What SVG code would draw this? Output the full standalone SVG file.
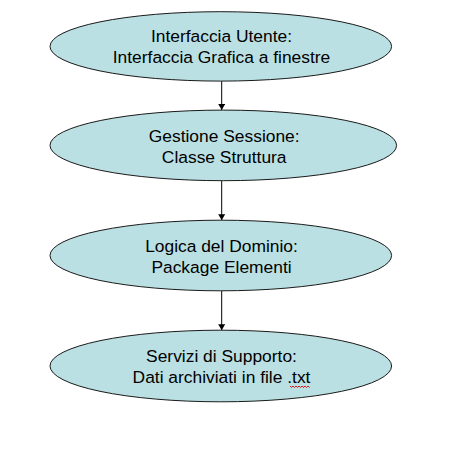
<svg xmlns="http://www.w3.org/2000/svg" width="452" height="453" viewBox="0 0 452 453">
  <style>
    .node ellipse { fill: #BBE0E3; stroke: #1a1a1a; stroke-width: 1; }
    .node text { font-family: "Liberation Sans", Arial, sans-serif; font-size: 17.4px; fill: #000; text-anchor: middle; }
    .conn line { stroke: #000; stroke-width: 1; }
  </style>
  <defs>
    <marker id="arr" markerUnits="userSpaceOnUse" markerWidth="6" markerHeight="7" refX="6" refY="3.5" orient="auto">
      <path d="M0,0 L6,3.5 L0,7 z" fill="#000"/>
    </marker>
  </defs>
  <rect width="452" height="453" fill="#fff"/>
  <g id="connectors" class="conn">
    <line x1="221.7" y1="81.2" x2="221.7" y2="110" marker-end="url(#arr)"/>
    <line x1="221.7" y1="180.8" x2="221.7" y2="220.2" marker-end="url(#arr)"/>
    <line x1="221.7" y1="290.9" x2="221.7" y2="330.2" marker-end="url(#arr)"/>
  </g>
  <g id="node-interfaccia" class="node">
    <ellipse cx="220.8" cy="46.4" rx="170.8" ry="34.7"/>
    <text x="221.5" y="41.9">Interfaccia Utente:</text>
    <text x="221.5" y="63.4">Interfaccia Grafica a finestre</text>
  </g>
  <g id="node-sessione" class="node">
    <ellipse cx="223.3" cy="145.4" rx="173.3" ry="35.3"/>
    <text x="224.2" y="141.7">Gestione Sessione:</text>
    <text x="224.2" y="162.7">Classe Struttura</text>
  </g>
  <g id="node-dominio" class="node">
    <ellipse cx="220.8" cy="255.5" rx="170.8" ry="35.3"/>
    <text x="221.5" y="251.7">Logica del Dominio:</text>
    <text x="221.5" y="272.9">Package Elementi</text>
  </g>
  <g id="node-servizi" class="node">
    <ellipse cx="220.8" cy="366" rx="170.8" ry="35.8"/>
    <text x="221.5" y="361.7">Servizi di Supporto:</text>
    <text x="221.5" y="383.3">Dati archiviati in file .txt</text>
    <polyline points="290,386 291.5,387.5 293,386 294.5,387.5 296,386 297.5,387.5 299,386 300.5,387.5 302,386 303.5,387.5 305,386 306.5,387.5 308,386 309.5,387.5" fill="none" stroke="#e00000" stroke-width="0.9"/>
  </g>
</svg>
